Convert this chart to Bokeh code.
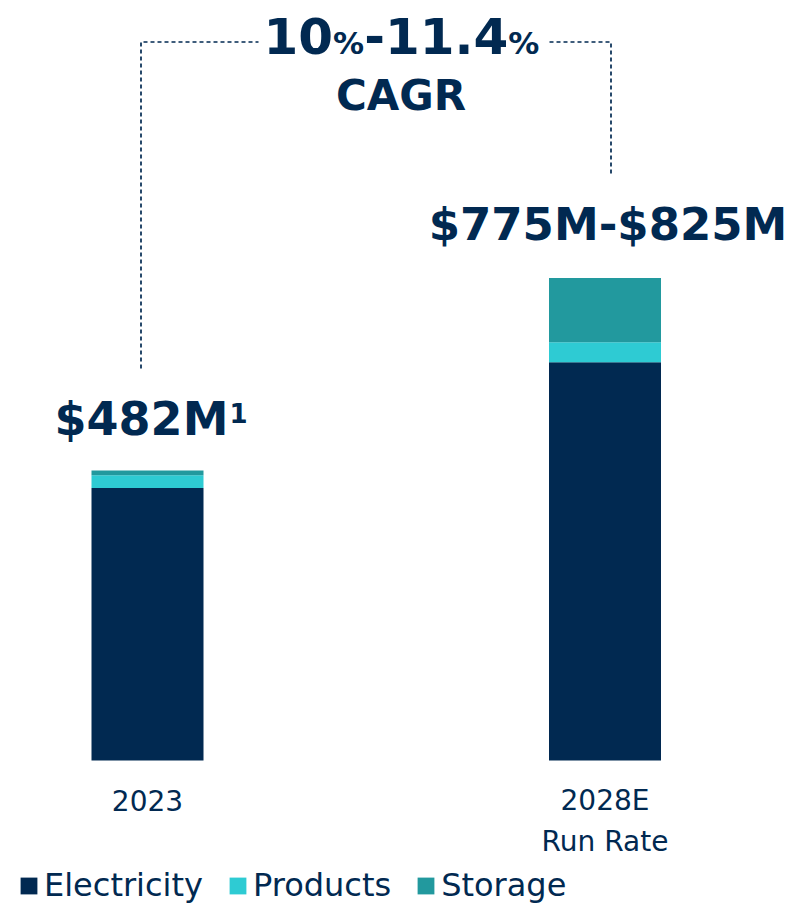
from bokeh.plotting import figure
from bokeh.models import Range1d, ColumnDataSource, Legend, LegendItem
from bokeh.core.properties import value
from bokeh.embed import file_html
from bokeh.resources import INLINE

# ---- data ----
categories = ["2023", "2028E\nRun Rate"]
series = ["Electricity", "Products", "Storage"]
electricity = [453, 662]
products = [21, 33]
storage = [8, 107]
total_labels = ["$482M", "$775M-$825M"]
footnote = ["1"]
cagr_parts = ["10", "%", "-", "11.4", "%"]
cagr_word = ["CAGR"]

# ---- styles ----
NAVY = "#012951"
colors = [NAVY, "#2ECBD3", "#22999E"]
FONT = "DejaVu Sans"
F = value(FONT)
SHIFT = 0.40  # baseline compensation (em)

# ---- layout (pixels) ----
W, H = 805, 903
X_PX = 457.5   # px per category step
X0 = 147       # px of first category centre
Y_PX = 0.6017  # px per $M
Y0 = 760       # px of value zero


def dx(px):
    return (px - X0) / X_PX


def dy(py):
    return (Y0 - py) / Y_PX


p = figure(width=W, height=H, x_range=Range1d(dx(0), dx(W)),
           y_range=Range1d(dy(H), dy(0)), output_backend="svg",
           toolbar_location=None, min_border=0,
           x_axis_location=None, y_axis_location=None)
p.grid.visible = False
p.outline_line_color = None
p.background_fill_color = "white"
p.border_fill_color = "white"

xs = list(range(len(categories)))
totals = [e + pr + s for e, pr, s in zip(electricity, products, storage)]
line1 = [c.split("\n")[0] for c in categories]
line2 = [c.split("\n")[1] if "\n" in c else "" for c in categories]
source = ColumnDataSource(dict(x=xs, Electricity=electricity, Products=products,
                               Storage=storage, total=totals, label=total_labels,
                               l1=line1, l2=line2, xoff=[-6, 3], yoff=[-51, -53],
                               fs=["46px", "45px"]))

renderers = p.vbar_stack(series, x="x", width=112 / X_PX, color=colors,
                         line_color=None, source=source)

# category labels
cat_size = 28
p.text(x="x", y=0, text="l1", source=source, text_align="center",
       text_baseline="alphabetic", y_offset=51 - SHIFT * cat_size, text_font=F,
       text_font_size=f"{cat_size}px", text_color=NAVY)
p.text(x="x", y=0, text="l2", source=source, text_align="center",
       text_baseline="alphabetic", y_offset=92 - SHIFT * cat_size, text_font=F,
       text_font_size=f"{cat_size}px", text_color=NAVY)

# total labels
p.text(x="x", y="total", text="label", source=source, text_align="center",
       text_baseline="alphabetic", x_offset="xoff", y_offset="yoff",
       text_font=F, text_font_style="bold", text_font_size="fs",
       text_color=NAVY)
p.text(x=[xs[0]], y=[totals[0]], text=footnote, text_align="left",
       text_baseline="alphabetic", x_offset=82, y_offset=-57,
       text_font=F, text_font_style="bold", text_font_size="26px",
       text_color=NAVY)

# CAGR bracket
p.line(x=[dx(140.5), dx(140.5), dx(258)], y=[dy(368), dy(41.5), dy(41.5)],
       line_dash="4 3", line_color=NAVY, line_width=1.7)
p.line(x=[dx(549), dx(610.5), dx(610.5)], y=[dy(41.5), dy(41.5), dy(175)],
       line_dash="4 3", line_color=NAVY, line_width=1.7)

cagr_x = [263, 332.6, 363.7, 384.4, 507.8]
cagr_sizes = [50, 31, 50, 50, 31]
cagr_src = ColumnDataSource(dict(x=[dx(v) for v in cagr_x], y=[dy(55)] * 5,
                                 t=cagr_parts, s=[f"{s}px" for s in cagr_sizes],
                                 yo=[-SHIFT * s for s in cagr_sizes]))
p.text(x="x", y="y", text="t", text_font_size="s", y_offset="yo", source=cagr_src,
       text_align="left", text_baseline="alphabetic", text_font=F,
       text_font_style="bold", text_color=NAVY)
p.text(x=[dx(400.5)], y=[dy(112)], text=cagr_word, text_align="center",
       text_baseline="alphabetic", y_offset=-SHIFT * 42, text_font=F,
       text_font_style="bold", text_font_size="42px", text_color=NAVY)

legend = Legend(items=[LegendItem(label=s, renderers=[r]) for s, r in zip(series, renderers)],
                orientation="horizontal", location=(18, -1), glyph_width=21,
                glyph_height=21, label_standoff=5, spacing=24, padding=0, margin=0,
                label_text_font=FONT, label_text_font_size="32px",
                label_text_color=NAVY, border_line_color=None,
                background_fill_alpha=0)
p.add_layout(legend)

open("out.html", "w").write(file_html(p, INLINE))
